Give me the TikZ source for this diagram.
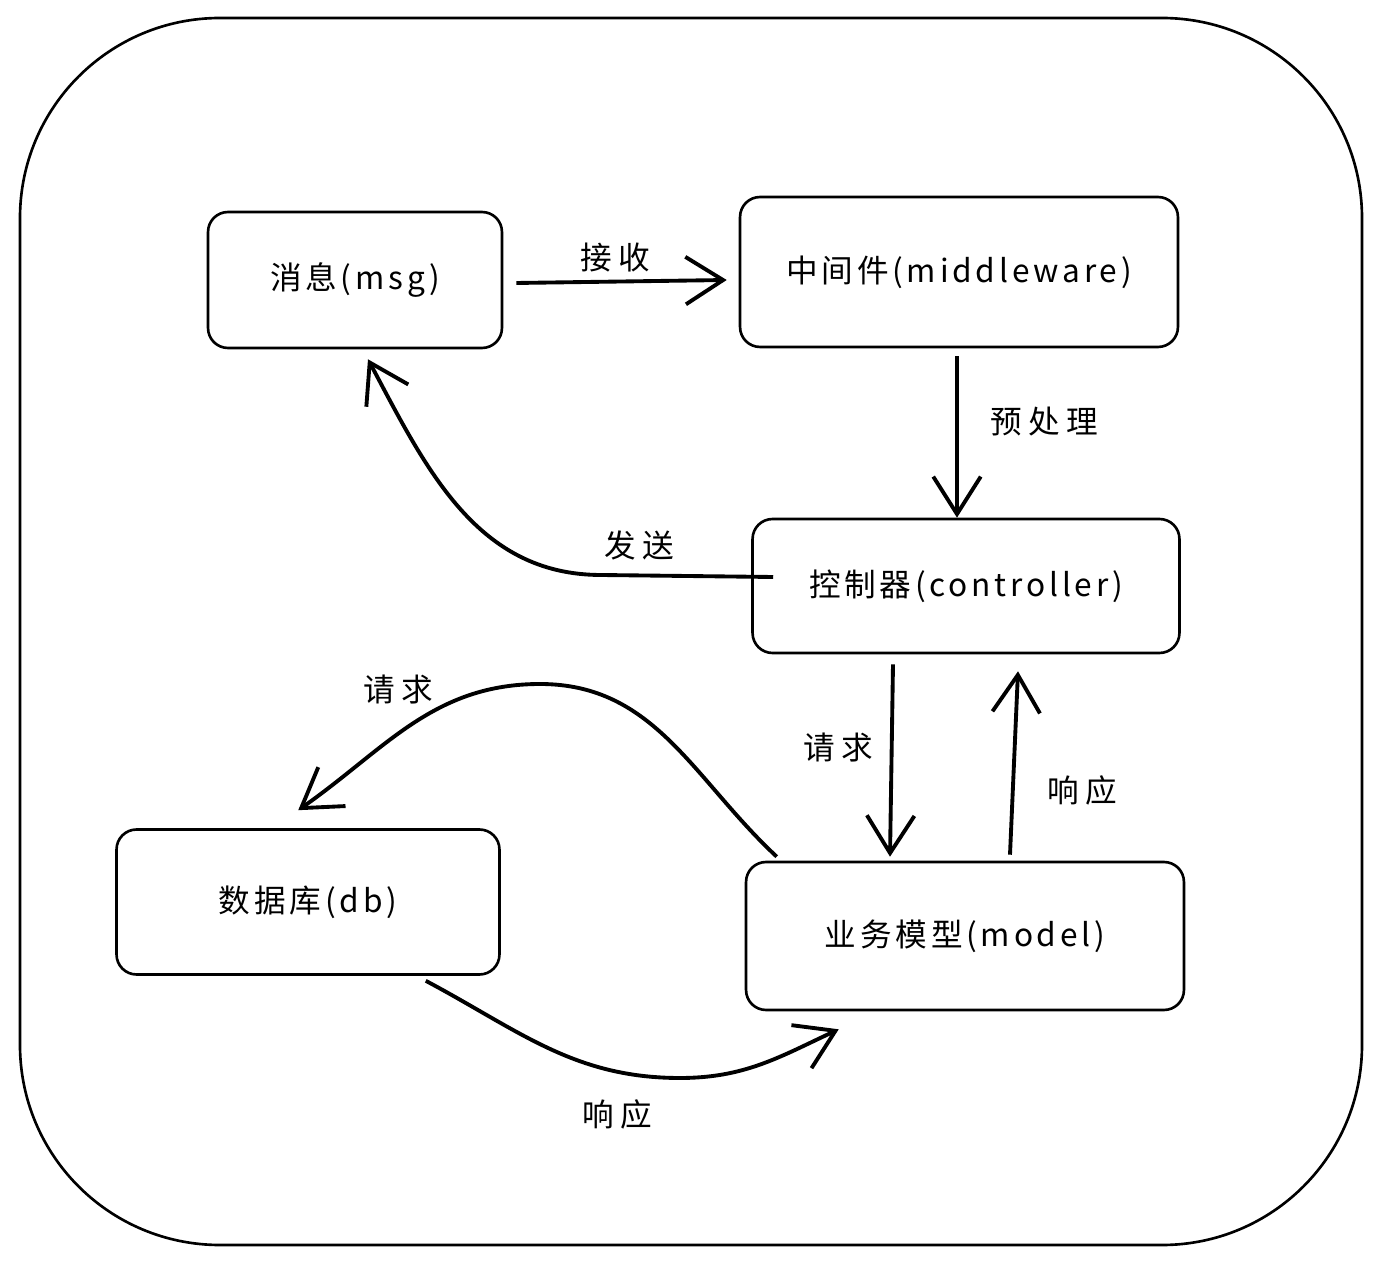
\documentclass[tikz,border=0pt]{standalone}
\usepackage{fontspec}
\setmainfont{Noto Sans CJK SC}
\newfontfamily\boxfont[LetterSpace=12]{Noto Sans CJK SC}
\newfontfamily\lblfont[LetterSpace=20]{Noto Sans CJK SC}
\usetikzlibrary{arrows.meta,positioning,calc}

\tikzset{
  box/.style={draw, line width=1.5pt, rounded corners=0.4cm, align=center,
    font=\boxfont\fontsize{18}{21}\selectfont},
  flow/.style={line width=2.2pt, -{Straight Barb[length=0.75cm, width=0.95cm, line width=2.2pt]}},
  lbl/.style={font=\lblfont\fontsize{18}{21}\selectfont}
}

\begin{document}
\begin{tikzpicture}[x=0.02cm, y=-0.02cm]
\useasboundingbox (0,0) rectangle (1380,1266);
% outer frame
\draw[line width=1.5pt, rounded corners=4cm] (20,18) rectangle (1362,1245);

% components
\node[box, minimum width=5.88cm, minimum height=2.72cm] (msg) at (355,280) {消息(msg)};
\node[box, minimum width=8.76cm, minimum height=3.0cm] (mid) at (959,272) {中间件(middleware)};
\node[box, minimum width=8.54cm, minimum height=2.68cm] (ctrl) at (966,586) {控制器(controller)};
\node[box, minimum width=8.76cm, minimum height=2.96cm] (model) at (965,936) {业务模型(model)};
\node[box, minimum width=7.66cm, minimum height=2.9cm] (db) at (308,902) {数据库(db)};

% connectors
\draw[flow] ($(msg.east)+(13,3)$) -- ($(mid.west)+(-12,8)$);
\draw[flow] ($(mid.south)+(-2,8)$) -- ($(ctrl.north)+(-9,0)$);
\draw[flow] ($(ctrl.west)+(22,-9)$) -- ($(ctrl.west)+(-150,-11)$)
  to[out=180, in=-62] ($(msg.south)+(13,10)$);
\draw[flow] ($(ctrl.south)+(-73,10)$) -- ($(model.north)+(-75,-4)$);
\draw[flow] ($(model.north)+(45,-6)$) -- ($(ctrl.south)+(52,17)$);
\draw[flow] ($(model.north west)+(32,-4)$) to[out=137, in=0] (540,684)
  to[out=180, in=35] ($(db.north west)+(183,-18)$);
\draw[flow] ($(db.south east)+(-75,5)$) to[out=-28, in=180] (680,1078)
  to[out=0, in=205] ($(model.south west)+(94,18)$);

% labels
\node[lbl] (l1) at (615,258) {接收};
\node[lbl] (l2) at (1044,422) {预处理};
\node[lbl] (l3) at (639,545) {发送};
\node[lbl] (l4) at (838,748) {请求};
\node[lbl] (l5) at (1082,790) {响应};
\node[lbl] (l6) at (398,690) {请求};
\node[lbl] (l7) at (617,1114) {响应};
\end{tikzpicture}
\end{document}
